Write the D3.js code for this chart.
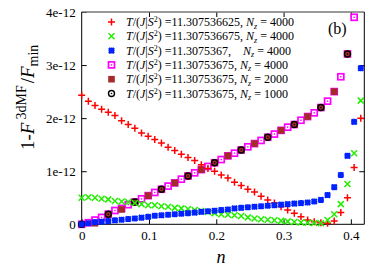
<!DOCTYPE html>
<html>
<head>
<meta charset="utf-8">
<script src="https://cdn.jsdelivr.net/npm/d3@7"></script>
<style>
  body { margin: 0; background: #fff; }
  svg text { font-family: "Liberation Serif", "DejaVu Serif", serif; }
</style>
</head>
<body>
<div id="chart"></div>
<script>
// n grid shared by the series
var nGrid = [0, .0099, .0198, .0296, .0395, .0494, .0593, .0691, .0790, .0889,
  .0988, .1086, .1185, .1284, .1383, .1481, .1580, .1679, .1778, .1876,
  .1975, .2074, .2173, .2271, .2370, .2469, .2568, .2666, .2765, .2864,
  .2963, .3061, .3160, .3259, .3358, .3456, .3555, .3654, .3753, .3851,
  .3950, .4049, .4148];

// values in units of 1e-12
var redVals = [2.43, 2.32, 2.24, 2.17, 2.11, 2.05, 1.95, 1.88, 1.81, 1.72,
  1.66, 1.60, 1.53, 1.45, 1.39, 1.32, 1.26, 1.20, 1.12, 1.05,
  1.00, 0.93, 0.87, 0.79, 0.73, 0.66, 0.61, 0.53, 0.46, 0.40,
  0.33, 0.27, 0.21, 0.14, 0.08, 0.05, 0.03, 0.02, 0.06, 0.22,
  0.50, 1.07, 2.00];
var greenVals = [0.50, 0.51, 0.50, 0.48, 0.47, 0.44, 0.43, 0.42, 0.40, 0.38,
  0.36, 0.36, 0.34, 0.33, 0.31, 0.30, 0.29, 0.27, 0.25, 0.23,
  0.21, 0.19, 0.18, 0.17, 0.155, 0.13, 0.11, 0.095, 0.085, 0.075,
  0.065, 0.055, 0.045, 0.035, 0.03, 0.025, 0.02, 0.08, 0.19, 0.38,
  0.76, 1.34, 2.33];
var blueVals = [0.00, 0.02, 0.04, 0.05, 0.06, 0.075, 0.087, 0.10, 0.11, 0.125,
  0.14, 0.16, 0.17, 0.18, 0.19, 0.20, 0.21, 0.22, 0.235, 0.245,
  0.255, 0.27, 0.28, 0.30, 0.31, 0.32, 0.33, 0.34, 0.35, 0.36,
  0.37, 0.38, 0.39, 0.40, 0.41, 0.43, 0.46, 0.55, 0.70, 0.93,
  1.29, 1.93, 2.94];
var magentaVals = [0.00, 0.03, 0.08, 0.13, 0.19, 0.26, 0.30, 0.37, 0.42, 0.48,
  0.54, 0.60, 0.66, 0.72, 0.78, 0.85, 0.91, 0.97, 1.03, 1.09,
  1.16, 1.22, 1.29, 1.34, 1.40, 1.46, 1.52, 1.58, 1.64, 1.70,
  1.77, 1.83, 1.88, 1.96, 2.03, 2.10, 2.20, 2.32, 2.50, 2.78,
  3.21, 3.90];
// N_z = 2000: every 2nd grid point
var brownVals = [0.00, 0.02, 0.19, 0.28, 0.42, 0.54, 0.66, 0.78, 0.91, 1.03,
  1.16, 1.29, 1.40, 1.52, 1.64, 1.77, 1.88, 2.03, 2.20, 2.50, 3.21];
// N_z = 1000: every 4th grid point
var blackVals = [0.00, 0.19, 0.42, 0.66, 0.91, 1.16, 1.40, 1.64, 1.88, 2.20, 3.21];

var legendTemps = ["11.307536625, ", "11.307536675, ", "11.3075367,    ", "11.30753675, ", "11.30753675, ", "11.30753675, "];
var legendNz = ["4000", "4000", "4000", "4000", "2000", "1000"];
var xTicks = [0, 0.1, 0.2, 0.3, 0.4];
var yTicks = [0, 1, 2, 3, 4];
var yTickLabels = ["0", "1e-12", "2e-12", "3e-12", "4e-12"];

var width = 382, height = 280;
var x = d3.scaleLinear().domain([0, 0.42]).range([81.7, 364.3]);
var y = d3.scaleLinear().domain([0, 4]).range([224.3, 12]);

var svg = d3.select("#chart").append("svg")
  .attr("width", width)
  .attr("height", height);

// axes with inward ticks
var gx = svg.append("g").attr("transform", "translate(0," + y(0) + ")")
  .call(d3.axisBottom(x).tickValues(xTicks).tickSizeInner(-5).tickSizeOuter(0).tickPadding(6)
    .tickFormat(function(d) { return d === 0 ? "0" : d3.format(".1f")(d); }));
var gy = svg.append("g").attr("transform", "translate(" + x(0) + ",0)")
  .call(d3.axisLeft(y).tickValues(yTicks).tickSizeInner(-5).tickSizeOuter(0).tickPadding(6)
    .tickFormat(function(d, i) { return yTickLabels[i]; }));
var gt = svg.append("g").attr("transform", "translate(0," + y(4) + ")")
  .call(d3.axisTop(x).tickValues(xTicks.slice(1)).tickSizeInner(-5).tickSizeOuter(0).tickFormat(""));
var gr = svg.append("g").attr("transform", "translate(" + x(0.42) + ",0)")
  .call(d3.axisRight(y).tickValues([1, 2, 3]).tickSizeInner(-5).tickSizeOuter(0).tickFormat(""));
[gx, gy, gt, gr].forEach(function(g) {
  g.select(".domain").remove();
  g.selectAll("text").attr("font-size", 13).attr("fill", "#000")
    .attr("font-family", "Liberation Serif, serif");
  g.selectAll("line").attr("stroke", "#000");
});

// frame
svg.append("line").attr("x1", x(0)).attr("x2", x(0.42)).attr("y1", y(4)).attr("y2", y(4))
  .attr("stroke", "#777").attr("stroke-width", 1.5);
svg.append("line").attr("x1", x(0.42)).attr("x2", x(0.42)).attr("y1", y(4)).attr("y2", y(0))
  .attr("stroke", "#000");
svg.append("line").attr("x1", x(0)).attr("x2", x(0)).attr("y1", y(4)).attr("y2", y(0))
  .attr("stroke", "#000");
svg.append("line").attr("x1", x(0)).attr("x2", x(0.42)).attr("y1", y(0)).attr("y2", y(0))
  .attr("stroke", "#000");

// marker drawers
function drawMagenta(g) {
  g.append("rect").attr("x", -3).attr("y", -3).attr("width", 6).attr("height", 6)
    .attr("fill", "#fff").attr("stroke", "#ff00ff").attr("stroke-width", 1.7);
  g.append("rect").attr("x", -0.7).attr("y", -0.7).attr("width", 1.4).attr("height", 1.4).attr("fill", "#ff00ff");
}
function drawBrown(g) {
  g.append("rect").attr("x", -3.3).attr("y", -3.3).attr("width", 6.6).attr("height", 6.6)
    .attr("fill", "#a52a2a");
}
function drawBlack(g, fill) {
  g.append("circle").attr("r", 3).attr("fill", fill || "none").attr("stroke", "#000").attr("stroke-width", 1.4);
  g.append("circle").attr("r", 0.8).attr("fill", "#000");
}
function drawRed(g) {
  g.append("path").attr("d", "M-3.5,0H3.5M0,-3.5V3.5").attr("stroke", "#ff0000").attr("stroke-width", 1.5);
}
function drawGreen(g) {
  g.append("path").attr("d", "M-3,-3L3,3M-3,3L3,-3").attr("stroke", "#22ee00").attr("stroke-width", 1.5);
}
function drawBlue(g) {
  g.append("path").attr("d", "M-3,0H3M0,-3V3M-2.6,-2.6L2.6,2.6M-2.6,2.6L2.6,-2.6")
    .attr("stroke", "#0022ff").attr("stroke-width", 2);
}

function plotSeries(vals, step, drawer) {
  svg.append("g").selectAll("g")
    .data(vals)
    .enter()
    .append("g")
    .attr("transform", function(d, i) { return "translate(" + x(nGrid[i * step]) + "," + y(d) + ")"; })
    .each(function() { drawer(d3.select(this)); });
}

plotSeries(magentaVals, 1, drawMagenta);
plotSeries(brownVals, 2, drawBrown);
plotSeries(blackVals, 4, drawBlack);
plotSeries(redVals, 1, drawRed);
plotSeries(greenVals, 1, drawGreen);
plotSeries(blueVals, 1, drawBlue);

// legend
var drawers = [drawRed, drawGreen, drawBlue, drawMagenta, drawBrown, drawBlack];
var legend = svg.append("g");
legendTemps.forEach(function(t, i) {
  var ly = 22 + i * 14.3;
  drawers[i](legend.append("g").attr("transform", "translate(111.5," + ly + ")"), "#fff");
  var txt = legend.append("text").attr("x", 126).attr("y", ly + 4).attr("font-size", 12)
    .style("white-space", "pre");
  txt.append("tspan").attr("font-style", "italic").text("T");
  txt.append("tspan").text("/(");
  txt.append("tspan").attr("font-style", "italic").text("J");
  txt.append("tspan").text("|");
  txt.append("tspan").attr("font-style", "italic").text("S");
  txt.append("tspan").attr("font-size", 8).attr("dy", -4).text("2");
  txt.append("tspan").attr("dy", 4).text(") =" + t);
  txt.append("tspan").attr("font-style", "italic").text("N");
  txt.append("tspan").attr("font-style", "italic").attr("font-size", 8).attr("dy", 2.5).text("z");
  txt.append("tspan").attr("dy", -2.5).text(" = " + legendNz[i]);
});

svg.append("text").attr("x", 328).attr("y", 34).attr("font-size", 16).text("(b)");

// axis titles
svg.append("text").attr("x", 221).attr("y", 263).attr("font-size", 18)
  .attr("font-style", "italic").attr("text-anchor", "middle").text("n");

var yl = svg.append("text").attr("transform", "translate(34,150) rotate(-90)")
  .attr("font-size", 19).style("white-space", "pre");
yl.append("tspan").text("1-");
yl.append("tspan").attr("font-style", "italic").text("F");
yl.append("tspan").attr("font-size", 14).attr("dy", -8).attr("dx", 3).text("3dMF");
yl.append("tspan").attr("dy", 8).attr("dx", 2).text("/");
yl.append("tspan").attr("font-style", "italic").text("F");
yl.append("tspan").attr("font-size", 14).attr("dy", 4).text("min");
</script>
</body>
</html>
